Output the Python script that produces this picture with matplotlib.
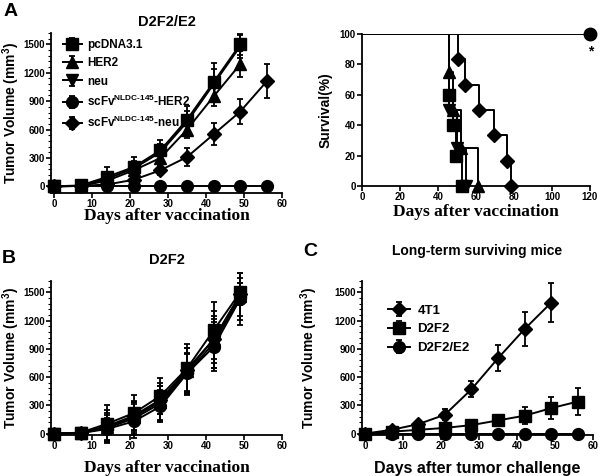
import numpy as np
import matplotlib
matplotlib.use("Agg")
import matplotlib.pyplot as plt
from matplotlib.ticker import AutoMinorLocator

plt.rcParams['font.family'] = ['Liberation Sans', 'DejaVu Sans']
plt.rcParams['font.weight'] = 'bold'
plt.rcParams['mathtext.fontset'] = 'custom'
plt.rcParams['mathtext.bf'] = 'Liberation Sans:bold'
plt.rcParams['mathtext.rm'] = 'Liberation Sans:bold'

# ---- data ----
days = [0, 7, 14, 21, 28, 35, 42, 49, 56]

# panel A (D2F2/E2 tumor volume)
a_labels = ['pcDNA3.1', 'HER2', 'neu',
            r'scFv$^{\mathbf{NLDC‐145}}$-HER2', r'scFv$^{\mathbf{NLDC‐145}}$-neu']
a_pcdna = [0, 10, 100, 205, 380, 705, 1100, 1500]
a_pcdna_err = [0, 10, 100, 105, 105, 140, 200, 110]
a_her2 = [0, 5, 60, 170, 300, 600, 950, 1290]
a_her2_err = [0, 5, 50, 60, 70, 90, 100, 140]
a_neu = [0, 5, 80, 190, 360, 680, 1080, 1480]
a_neu_err = [0, 5, 60, 80, 90, 120, 160, 120]
a_scher2 = [0, 0, 0, 0, 0, 0, 0, 0, 0]
a_scher2_err = [0, 0, 0, 0, 0, 0, 0, 0, 0]
a_scneu = [0, 5, 20, 70, 170, 310, 550, 790, 1110]
a_scneu_err = [0, 5, 15, 30, 50, 95, 115, 130, 180]

# survival (step curves): drop times and resulting levels
s_pcdna_t = [46, 48, 49.5, 52.5]
s_pcdna_v = [60, 40, 20, 0]
s_her2_t = [46, 48, 52, 61]
s_her2_v = [75, 50, 25, 0]
s_neu_t = [46, 50, 54.5]
s_neu_v = [50, 25, 0]
s_scneu_t = [50.5, 54, 61.5, 69.5, 76.5, 78.5]
s_scneu_v = [83.3, 66.7, 50, 33.3, 16.7, 0]
s_scher2_t = [120]
s_scher2_v = [100]

# panel B (D2F2 tumor volume)
b_pcdna = [0, 10, 105, 218, 400, 692, 1096, 1500]
b_pcdna_err = [0, 25, 200, 190, 195, 260, 300, 100]
b_her2 = [0, 6, 70, 180, 340, 660, 1000, 1460]
b_her2_err = [0, 20, 150, 170, 200, 250, 250, 250]
b_neu = [0, 5, 60, 160, 320, 640, 960, 1450]
b_neu_err = [0, 20, 140, 180, 190, 220, 260, 200]
b_scher2 = [0, 5, 49, 130, 288, 640, 920, 1430]
b_scher2_err = [0, 15, 120, 180, 170, 200, 260, 280]
b_scneu = [0, 8, 80, 190, 360, 680, 1000, 1480]
b_scneu_err = [0, 20, 170, 150, 150, 230, 300, 120]

# panel C (long-term surviving mice)
c_labels = ['4T1', 'D2F2', 'D2F2/E2']
c_4t1 = [0, 40, 100, 200, 470, 800, 1110, 1390]
c_4t1_err = [0, 10, 20, 60, 85, 140, 180, 210]
c_d2f2 = [0, 20, 40, 60, 90, 140, 190, 270, 340]
c_d2f2_err = [0, 10, 15, 20, 25, 40, 90, 120, 145]
c_e2 = [0, 0, 0, 0, 0, 0, 0, 0, 0]
c_e2_err = [0, 0, 0, 0, 0, 0, 0, 0, 0]

W, H = 600, 476
fig = plt.figure(figsize=(6, 4.76), dpi=100)
SERIF = ['Liberation Serif', 'DejaVu Serif']
MS = {'s': 8.5, '^': 9, 'v': 9, 'o': 8.5, 'D': 7.5}


def add_ax(l, r, t, b):
    return fig.add_axes([l / W, 1 - b / H, (r - l) / W, (b - t) / H])


def style(ax):
    for s in ['top', 'right']:
        ax.spines[s].set_visible(False)
    for s in ['left', 'bottom']:
        ax.spines[s].set_linewidth(1.3)
    ax.tick_params(axis='both', which='major', length=3.5, width=1.2,
                   labelsize=7, pad=1)
    ax.tick_params(axis='both', which='minor', length=2, width=0.8)
    for lab in ax.get_xticklabels() + ax.get_yticklabels():
        lab.set_fontweight('bold')


def curve(ax, y, err, marker, label=None):
    x = days[:len(y)]
    ax.errorbar(x, y, yerr=err, fmt='-', color='black', lw=1.4,
                marker=marker, ms=MS[marker], ecolor='black', elinewidth=1.3,
                capsize=2.5, capthick=1.3, label=label, clip_on=False,
                zorder=3)


def vol_axes(ax, ylo, labx):
    ax.set_xlim(-0.8, 60)
    ax.set_ylim(ylo, 1620)
    ax.set_xticks(range(0, 61, 10))
    ax.set_yticks(range(0, 1501, 300))
    ax.yaxis.set_minor_locator(AutoMinorLocator(5))
    ax.set_ylabel('Tumor Volume (mm$^3$)', fontsize=10, fontweight='bold')
    ax.yaxis.set_label_coords(labx, 0.5)
    style(ax)


# ---- panel A left ----
ax1 = add_ax(51, 282, 33, 193)
curve(ax1, a_pcdna, a_pcdna_err, 's', label=a_labels[0])
curve(ax1, a_her2, a_her2_err, '^', label=a_labels[1])
curve(ax1, a_neu, a_neu_err, 'v', label=a_labels[2])
curve(ax1, a_scher2, a_scher2_err, 'o', label=a_labels[3])
curve(ax1, a_scneu, a_scneu_err, 'D', label=a_labels[4])
vol_axes(ax1, -70, -0.125)
ax1.set_xlabel('Days after vaccination', fontsize=12.5, fontweight='bold',
               family=SERIF, labelpad=-1)
ax1.set_title('D2F2/E2', fontsize=10.5, fontweight='bold', pad=5)
leg = ax1.legend(loc='upper left', bbox_to_anchor=(0.02, 1.005), frameon=False,
                 fontsize=8.5, handlelength=1.6, handletextpad=0.5,
                 labelspacing=0.52, borderaxespad=0.2)
for t in leg.get_texts():
    t.set_fontweight('bold')

# ---- panel A right (survival) ----
ax2 = add_ax(362, 590, 34, 186)
surv = [(s_pcdna_t, s_pcdna_v, 's'), (s_her2_t, s_her2_v, '^'),
        (s_neu_t, s_neu_v, 'v'), (s_scneu_t, s_scneu_v, 'D')]
for t, v, m in surv:
    xs = [0] + t
    ys = [100] + v
    ax2.step(xs, ys, where='post', color='black', lw=1.4, zorder=2)
    ax2.plot(t, v, ls='none', marker=m, ms=MS[m], color='black',
             clip_on=False, zorder=3)
ax2.plot([0, 120], [100, 100], color='black', lw=1.4, zorder=2)
ax2.plot(s_scher2_t, s_scher2_v, ls='none', marker='o', ms=9,
         color='black', clip_on=False, zorder=3)
ax2.text(120.5, 93, '*', ha='center', va='top', fontsize=10, fontweight='bold')
ax2.set_xlim(0, 120)
ax2.set_ylim(0, 100)
ax2.set_xticks(range(0, 121, 20))
ax2.set_yticks(range(0, 101, 20))
ax2.set_ylabel('Survival(%)', fontsize=10, fontweight='bold')
ax2.yaxis.set_label_coords(-0.13, 0.5)
ax2.set_xlabel('Days after vaccination', fontsize=12.5, fontweight='bold',
               family=SERIF, labelpad=1)
style(ax2)

# ---- panel B ----
ax3 = add_ax(51, 282, 281, 435)
curve(ax3, b_scher2, b_scher2_err, 'o')
curve(ax3, b_neu, b_neu_err, 'v')
curve(ax3, b_her2, b_her2_err, '^')
curve(ax3, b_scneu, b_scneu_err, 'D')
curve(ax3, b_pcdna, b_pcdna_err, 's')
vol_axes(ax3, -15, -0.125)
ax3.set_xlabel('Days after vaccination', fontsize=12.5, fontweight='bold',
               family=SERIF, labelpad=6)
ax3.set_title('D2F2', fontsize=10.5, fontweight='bold', pad=12)

# ---- panel C ----
ax4 = add_ax(362, 593, 281, 435)
curve(ax4, c_4t1, c_4t1_err, 'D', label=c_labels[0])
curve(ax4, c_d2f2, c_d2f2_err, 's', label=c_labels[1])
curve(ax4, c_e2, c_e2_err, 'o', label=c_labels[2])
vol_axes(ax4, -15, -0.18)
ax4.set_xlabel('Days after tumor challenge', fontsize=11.5, fontweight='bold',
               labelpad=7)
ax4.set_title('Long-term surviving mice', fontsize=10, fontweight='bold',
              pad=19)
leg = ax4.legend(loc='upper left', bbox_to_anchor=(0.08, 0.9), frameon=False,
                 fontsize=9.5, handlelength=1.6, handletextpad=0.6,
                 labelspacing=0.5, borderaxespad=0.2)
for t in leg.get_texts():
    t.set_fontweight('bold')

# panel letters
fig.text(4 / W, 1 - 3 / H, 'A', fontsize=14, fontweight='bold', va='top')
fig.text(2 / W, 1 - 250 / H, 'B', fontsize=14, fontweight='bold', va='top')
fig.text(303 / W, 1 - 243 / H, 'C', fontsize=14, fontweight='bold', va='top')

fig.savefig('out.png', dpi=100)
